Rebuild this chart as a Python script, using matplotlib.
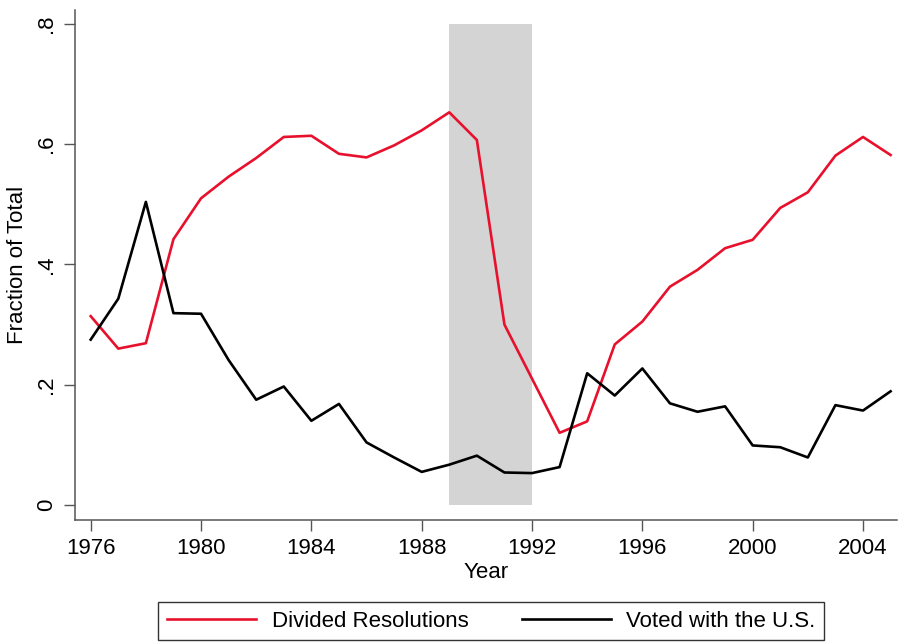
import matplotlib.pyplot as plt
import numpy as np

plt.rcParams['font.family'] = ['Liberation Sans', 'DejaVu Sans']

years = np.arange(1976, 2006)
divided = [0.314, 0.260, 0.269, 0.442, 0.510, 0.546, 0.577, 0.612, 0.614, 0.584,
           0.578, 0.598, 0.623, 0.653, 0.607, 0.300, 0.210, 0.120, 0.139, 0.267,
           0.305, 0.363, 0.391, 0.427, 0.441, 0.494, 0.520, 0.581, 0.612, 0.582]
voted_us = [0.275, 0.343, 0.504, 0.319, 0.318, 0.241, 0.175, 0.197, 0.140, 0.168,
            0.104, 0.079, 0.055, 0.067, 0.082, 0.054, 0.053, 0.063, 0.219, 0.182,
            0.227, 0.169, 0.155, 0.164, 0.099, 0.096, 0.079, 0.166, 0.157, 0.189]
shade_start, shade_end = 1989, 1992
xticks = np.arange(1976, 2005, 4)
yticks = [0, 0.2, 0.4, 0.6, 0.8]
ytick_labels = ['0', '.2', '.4', '.6', '.8']

fig = plt.figure(figsize=(8.98, 6.43), dpi=100)
ax = fig.add_axes([0.0835, 0.1913, 0.915, 0.793])

ax.fill_between([shade_start, shade_end], 0, 0.8, color='#d4d4d4', lw=0, zorder=1)
ax.plot(years, divided, color='#e8112d', lw=1.9, label='Divided Resolutions', zorder=3)
ax.plot(years, voted_us, color='black', lw=1.9, label='Voted with the U.S.', zorder=3)

ax.set_xlim(1975.43, 2005.22)
ax.set_ylim(-0.025, 0.823)
ax.set_xticks(xticks)
ax.set_yticks(yticks)
ax.set_yticklabels(ytick_labels, rotation=90, va='center')
ax.tick_params(axis='both', direction='out', length=8, width=1, color='#555555',
               labelsize=16, pad=5)
for side in ['top', 'right']:
    ax.spines[side].set_visible(False)
for side in ['left', 'bottom']:
    ax.spines[side].set_color('#555555')
    ax.spines[side].set_linewidth(1.1)

ax.set_xlabel('Year', fontsize=16, labelpad=2)
ax.set_ylabel('Fraction of Total', fontsize=16, labelpad=6)

leg = fig.legend(loc='lower center', bbox_to_anchor=(0.547, 0.004), ncol=2,
                 fontsize=16, frameon=True, fancybox=False, handlelength=4,
                 handletextpad=0.7, columnspacing=2.4, borderpad=0.4,
                 borderaxespad=0)
leg.get_frame().set_edgecolor('black')
leg.get_frame().set_linewidth(1)

fig.savefig('out.png', dpi=100)
